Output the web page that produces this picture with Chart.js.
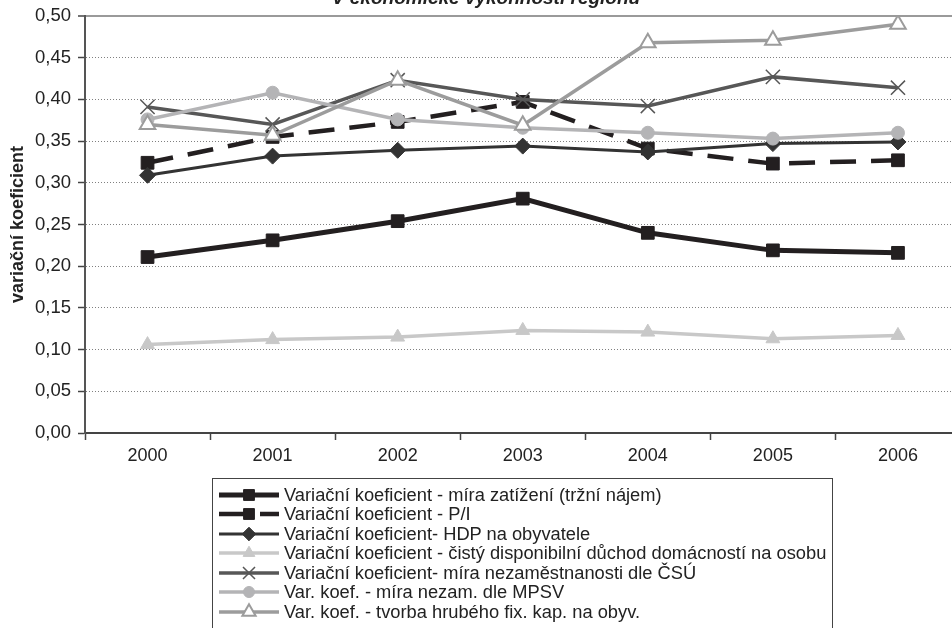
<!DOCTYPE html>
<html>
<head>
<meta charset="utf-8">
<script src="https://cdn.jsdelivr.net/npm/chart.js@4.4.1/dist/chart.umd.min.js"></script>
<style>
  html, body { margin: 0; padding: 0; background: #fff; }
  body { width: 952px; height: 628px; overflow: hidden; position: relative; font-family: "Liberation Sans", Arial, sans-serif; }
  #chart { position: absolute; left: 0; top: -20px; }
  #legend { position: absolute; left: 212px; top: 478px; width: 621px; height: 170px; border: 1px solid #444; box-sizing: border-box; padding-top: 6px; }
  .row { height: 19.5px; display: flex; align-items: center; font-size: 18.3px; color: #222; white-space: nowrap; }
  .row canvas { margin-left: 5px; margin-right: 4px; }
</style>
</head>
<body>
<canvas id="chart" width="972" height="493"></canvas>
<div id="legend"></div>
<script>
const years = ['2000', '2001', '2002', '2003', '2004', '2005', '2006'];

const seriesNames = [
  'Variační koeficient - míra zatížení (tržní nájem)',
  'Variační koeficient - P/I',
  'Variační koeficient- HDP na obyvatele',
  'Variační koeficient - čistý disponibilní důchod domácností na osobu',
  'Variační koeficient- míra nezaměstnanosti dle ČSÚ',
  'Var. koef. - míra nezam. dle MPSV',
  'Var. koef. - tvorba hrubého fix. kap. na obyv.'
];

const zatizeni = [0.211, 0.231, 0.254, 0.281, 0.240, 0.219, 0.216];
const pi = [0.324, 0.355, 0.373, 0.397, 0.341, 0.323, 0.327];
const hdp = [0.309, 0.332, 0.339, 0.344, 0.337, 0.347, 0.349];
const duchod = [0.106, 0.112, 0.115, 0.123, 0.121, 0.113, 0.117];
const nezamCsu = [0.391, 0.370, 0.423, 0.400, 0.392, 0.427, 0.414];
const nezamMpsv = [0.376, 0.408, 0.376, 0.366, 0.360, 0.353, 0.360];
const tvorbaKap = [0.370, 0.357, 0.423, 0.369, 0.468, 0.471, 0.490];

const yTicksMax = 0.5;
const yTicksStep = 0.05;

const FONT = '"Liberation Sans", Arial, sans-serif';

// styl kazde rady: barva, tloustka, znacka
const styles = [
  { color: '#231f20', width: 5, dash: [], marker: 'rect', radius: 9, fill: '#231f20', mborder: '#231f20', mwidth: 1 },
  { color: '#231f20', width: 4.5, dash: [26, 15], marker: 'rect', radius: 9, fill: '#231f20', mborder: '#231f20', mwidth: 1 },
  { color: '#333333', width: 3, dash: [], marker: 'rectRot', radius: 8, fill: '#333333', mborder: '#333333', mwidth: 1 },
  { color: '#c8c8c8', width: 3.5, dash: [], marker: 'triangle', radius: 8, fill: '#c8c8c8', mborder: '#c8c8c8', mwidth: 1 },
  { color: '#575757', width: 3.5, dash: [], marker: 'crossRot', radius: 10, fill: '#575757', mborder: '#575757', mwidth: 1.5 },
  { color: '#b4b4b6', width: 3.5, dash: [], marker: 'circle', radius: 6.5, fill: '#b4b4b6', mborder: '#b4b4b6', mwidth: 1 },
  { color: '#9c9c9c', width: 3.5, dash: [], marker: 'triangle', radius: 9, fill: '#ffffff', mborder: '#9c9c9c', mwidth: 2 }
];

const values = [zatizeni, pi, hdp, duchod, nezamCsu, nezamMpsv, tvorbaKap];

const datasets = values.map((data, i) => {
  const s = styles[i];
  return {
    label: seriesNames[i],
    data: data,
    borderColor: s.color,
    borderWidth: s.width,
    borderDash: s.dash,
    pointStyle: s.marker,
    pointRadius: s.radius,
    pointBackgroundColor: s.fill,
    pointBorderColor: s.mborder,
    pointBorderWidth: s.mwidth,
    tension: 0,
    fill: false,
    order: values.length - i
  };
});

const isTop = (ctx) => ctx.tick && Math.abs(ctx.tick.value - yTicksMax) < 1e-9;

new Chart(document.getElementById('chart'), {
  type: 'line',
  data: { labels: years, datasets: datasets },
  options: {
    responsive: false,
    animation: false,
    layout: { padding: { left: 0, right: 0, top: 0, bottom: 0 } },
    plugins: {
      legend: { display: false },
      tooltip: { enabled: false },
      title: {
        display: true,
        text: 'V ekonomické výkonnosti regionu',
        color: '#222',
        font: { family: FONT, size: 19, weight: 'bold', style: 'italic' },
        padding: { top: 7.4, bottom: 5.8 }
      }
    },
    scales: {
      x: {
        type: 'category',
        offset: true,
        afterFit: (scale) => { scale.height = 40; },
        grid: {
          offset: true,
          drawOnChartArea: false,
          drawTicks: true,
          tickLength: 7,
          tickColor: '#444',
          tickWidth: 1.5,
          color: '#444'
        },
        border: { display: true, color: '#444', width: 2 },
        ticks: { color: '#222', padding: 5, font: { family: FONT, size: 18 } }
      },
      y: {
        min: 0,
        max: yTicksMax,
        afterFit: (scale) => { scale.width = 85; },
        ticks: {
          stepSize: yTicksStep,
          color: '#222',
          padding: 7,
          font: { family: FONT, size: 18.5 },
          callback: (v) => v.toFixed(2).replace('.', ',')
        },
        grid: {
          color: (ctx) => isTop(ctx) ? '#9a9a9a' : '#808080',
          lineWidth: (ctx) => isTop(ctx) ? 2 : 1,
          drawTicks: true,
          tickLength: 7,
          tickColor: '#444',
          tickWidth: 1.5,
          tickBorderDash: []
        },
        border: {
          display: true,
          color: '#555',
          width: 2,
          dash: (ctx) => isTop(ctx) ? [] : [1, 2]
        },
        title: {
          display: true,
          text: 'variační koeficient',
          color: '#222',
          font: { family: FONT, size: 18, weight: 'bold' },
          padding: { top: 7, bottom: 0 }
        }
      }
    }
  }
});

// legenda jako HTML, vzorky kreslene do malych canvasu
function drawMarker(ctx, s, x, y) {
  const r = s.radius;
  ctx.save();
  ctx.fillStyle = s.fill;
  ctx.strokeStyle = s.mborder;
  ctx.lineWidth = s.mwidth;
  ctx.setLineDash([]);
  ctx.beginPath();
  if (s.marker === 'rect') {
    const h = r * Math.SQRT1_2;
    ctx.rect(x - h, y - h, 2 * h, 2 * h);
  } else if (s.marker === 'rectRot') {
    ctx.moveTo(x, y - r); ctx.lineTo(x + r, y); ctx.lineTo(x, y + r); ctx.lineTo(x - r, y); ctx.closePath();
  } else if (s.marker === 'triangle') {
    for (let k = 0; k < 3; k++) {
      const a = k * 2 * Math.PI / 3;
      const px = x + Math.sin(a) * r, py = y - Math.cos(a) * r;
      if (k === 0) ctx.moveTo(px, py); else ctx.lineTo(px, py);
    }
    ctx.closePath();
  } else if (s.marker === 'circle') {
    ctx.arc(x, y, r, 0, Math.PI * 2);
  } else if (s.marker === 'crossRot') {
    const h = r * Math.SQRT1_2;
    ctx.moveTo(x - h, y - h); ctx.lineTo(x + h, y + h);
    ctx.moveTo(x + h, y - h); ctx.lineTo(x - h, y + h);
    ctx.stroke();
    ctx.restore();
    return;
  }
  ctx.fill();
  ctx.stroke();
  ctx.restore();
}

const legend = document.getElementById('legend');
seriesNames.forEach((name, i) => {
  const s = styles[i];
  const row = document.createElement('div');
  row.className = 'row';
  const c = document.createElement('canvas');
  c.width = 62; c.height = 20;
  const ctx = c.getContext('2d');
  ctx.strokeStyle = s.color;
  ctx.lineWidth = s.width;
  ctx.setLineDash(s.dash);
  ctx.beginPath();
  ctx.moveTo(1, 10); ctx.lineTo(61, 10);
  ctx.stroke();
  drawMarker(ctx, Object.assign({}, s, { radius: s.radius * 0.85 }), 31, 10);
  const span = document.createElement('span');
  span.textContent = name;
  row.appendChild(c);
  row.appendChild(span);
  legend.appendChild(row);
});
</script>
</body>
</html>
